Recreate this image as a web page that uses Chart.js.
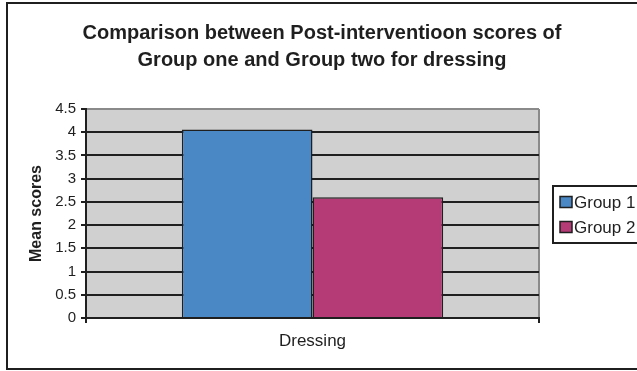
<!DOCTYPE html>
<html>
<head>
<meta charset="utf-8">
<script src="https://cdn.jsdelivr.net/npm/chart.js@4/dist/chart.umd.min.js"></script>
<style>
  html, body { margin: 0; padding: 0; background: #ffffff; }
  #wrap { width: 637px; height: 371px; }
</style>
</head>
<body>
<div id="wrap"><canvas id="c" width="637" height="371"></canvas></div>
<script>
// Chart content
const titleLines = ['Comparison between Post-interventioon scores of', 'Group one and Group two for dressing'];
const categories = ['Dressing'];
const seriesNames = ['Group 1', 'Group 2'];
const group1Scores = [4.06];
const group2Scores = [2.6];
const yAxisTitle = 'Mean scores';
const yTickValues = [0, 0.5, 1, 1.5, 2, 2.5, 3, 3.5, 4, 4.5];
const seriesColors = ['#4a87c5', '#b43b76'];

const FONT = '"Liberation Sans", Arial, sans-serif';
const INK = '#1f1f1f';

// Grey plot background, the figure frame and the two-line heading
const frame = {
  id: 'frame',
  beforeDraw(chart) {
    const { ctx, chartArea: a } = chart;
    ctx.save();
    ctx.fillStyle = '#d0d0d0';
    ctx.fillRect(a.left, a.top, a.right - a.left, a.bottom - a.top);
    ctx.restore();
  },
  afterDraw(chart) {
    const { ctx } = chart;
    ctx.save();
    ctx.strokeStyle = INK;
    ctx.lineWidth = 2;
    ctx.strokeRect(7, 3, 640, 366);
    ctx.fillStyle = INK;
    ctx.font = 'bold 20px ' + FONT;
    ctx.textAlign = 'center';
    ctx.textBaseline = 'middle';
    titleLines.forEach((line, i) => ctx.fillText(line, 322, 33 + i * 27));
    ctx.restore();
  }
};

// Boxed legend to the right of the plot
const boxedLegend = {
  id: 'boxedLegend',
  afterDraw(chart) {
    const { ctx } = chart;
    const x = 553, y = 186, h = 57;
    ctx.save();
    ctx.fillStyle = '#ffffff';
    ctx.fillRect(x, y, 100, h);
    ctx.strokeStyle = INK;
    ctx.lineWidth = 2;
    ctx.strokeRect(x, y, 100, h);
    ctx.font = '17px ' + FONT;
    ctx.textBaseline = 'middle';
    chart.data.datasets.forEach((ds, i) => {
      const cy = y + 16 + i * 25;
      ctx.fillStyle = ds.backgroundColor;
      ctx.fillRect(560, cy - 5.5, 12, 11);
      ctx.strokeStyle = INK;
      ctx.lineWidth = 1.5;
      ctx.strokeRect(560, cy - 5.5, 12, 11);
      ctx.fillStyle = INK;
      ctx.fillText(ds.label, 574, cy + 1);
    });
    ctx.restore();
  }
};

new Chart(document.getElementById('c'), {
  type: 'bar',
  data: {
    labels: categories,
    datasets: [
      { label: seriesNames[0], data: group1Scores, backgroundColor: seriesColors[0] },
      { label: seriesNames[1], data: group2Scores, backgroundColor: seriesColors[1] }
    ]
  },
  options: {
    responsive: false,
    animation: false,
    devicePixelRatio: 1,
    layout: { padding: { left: 7, right: 98, top: 109, bottom: 2 } },
    datasets: {
      bar: {
        categoryPercentage: 0.577,
        barPercentage: 1,
        borderColor: INK,
        borderWidth: 1.5
      }
    },
    plugins: {
      legend: { display: false },
      tooltip: { enabled: false },
      title: { display: false }
    },
    scales: {
      x: {
        offset: true,
        grid: {
          display: true,
          offset: true,
          drawOnChartArea: true,
          color: '#8a8a8a',
          lineWidth: 2,
          tickColor: INK,
          tickLength: 5
        },
        border: { display: true, color: INK, width: 2 },
        ticks: { color: INK, font: { family: FONT, size: 17 }, padding: 8 },
        afterFit(scale) { scale.height = 51; }
      },
      y: {
        min: 0,
        max: 4.5,
        afterBuildTicks(scale) { scale.ticks = yTickValues.map(v => ({ value: v })); },
        ticks: {
          color: INK,
          font: { family: FONT, size: 15 },
          padding: 5,
          callback: v => String(v)
        },
        grid: {
          color: ctx => (ctx.tick && ctx.tick.value === 4.5 ? '#8a8a8a' : INK),
          lineWidth: 2,
          tickColor: INK,
          tickLength: 5
        },
        border: { display: true, color: INK, width: 2 },
        title: {
          display: true,
          text: yAxisTitle,
          color: INK,
          font: { family: FONT, size: 16, weight: 'bold' },
          padding: { top: 20, bottom: 0 }
        },
        afterFit(scale) { scale.width = 79; }
      }
    }
  },
  plugins: [frame, boxedLegend]
});
</script>
</body>
</html>
